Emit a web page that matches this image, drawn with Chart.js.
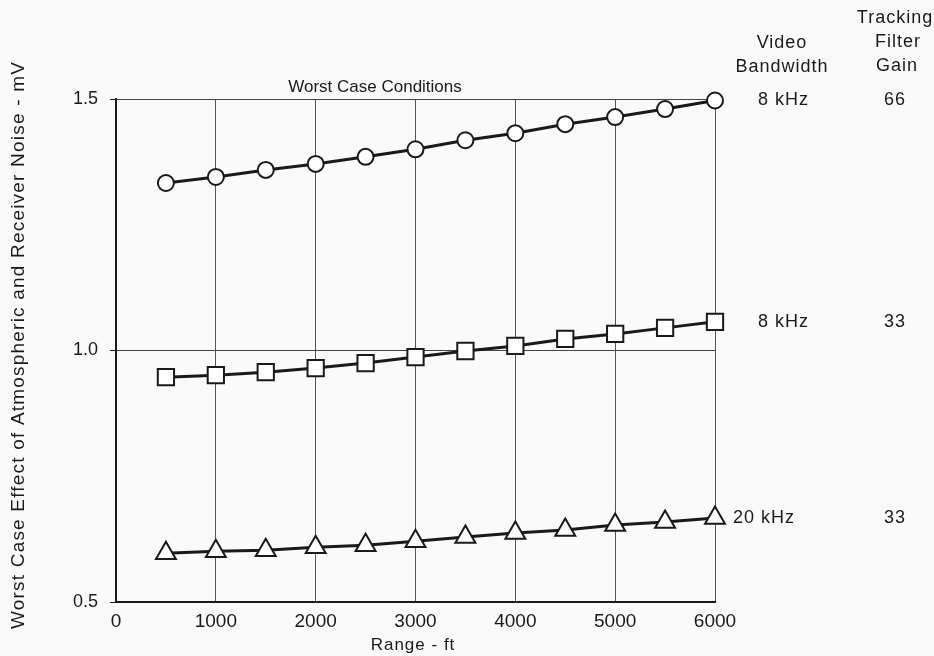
<!DOCTYPE html>
<html>
<head>
<meta charset="utf-8">
<script src="https://cdn.jsdelivr.net/npm/chart.js@4/dist/chart.umd.min.js"></script>
<style>
  html, body { margin: 0; padding: 0; background: #fafafa; }
  #wrap { width: 934px; height: 656px; }
</style>
</head>
<body>
<div id="wrap"><canvas id="chart" width="934" height="656"></canvas></div>
<script>
// range in feet
const rangeFt = [500, 1000, 1500, 2000, 2500, 3000, 3500, 4000, 4500, 5000, 5500, 6000];
// noise effect, mV
const bw8kGain66 = [1.333, 1.345, 1.359, 1.371, 1.385, 1.400, 1.418, 1.432, 1.450, 1.464, 1.480, 1.497];
const bw8kGain33 = [0.947, 0.951, 0.957, 0.965, 0.975, 0.987, 0.999, 1.009, 1.023, 1.033, 1.045, 1.057];
const bw20kGain33 = [0.597, 0.601, 0.603, 0.609, 0.613, 0.621, 0.629, 0.637, 0.643, 0.653, 0.659, 0.667];

const seriesLabels = [
  { bw: "8 kHz", gain: "66", data: bw8kGain66, shape: "circle", r: 8 },
  { bw: "8 kHz", gain: "33", data: bw8kGain33, shape: "rect", r: 11.5 },
  { bw: "20 kHz", gain: "33", data: bw20kGain33, shape: "triangle", r: 11.5 }
];
const xTicks = [0, 1000, 2000, 3000, 4000, 5000, 6000];
const yTicks = [0.5, 1.0, 1.5];

const ink = "#1a1a1a";
const font = "'Liberation Sans', Arial, sans-serif";

const toPoints = (arr) => arr.map((v, i) => ({ x: rangeFt[i], y: v }));

// headers, curve labels and axis titles
const annotations = {
  id: "annotations",
  afterDraw(chart) {
    const ctx = chart.ctx;
    const x = chart.scales.x, y = chart.scales.y;
    ctx.save();
    ctx.fillStyle = ink;
    ctx.textBaseline = "middle";
    ctx.textAlign = "center";

    ctx.font = "17px " + font;
    ctx.fillText("Worst Case Conditions", 375, 87);

    ctx.font = "18px " + font;
    ctx.letterSpacing = "1px";
    ctx.fillText("Video", 782, 43);
    ctx.fillText("Bandwidth", 782, 67);
    ctx.fillText("Tracking", 895, 18);
    ctx.fillText("Filter", 898, 42);
    ctx.fillText("Gain", 897, 66);

    const last = rangeFt.length - 1;
    seriesLabels.forEach((s) => {
      const py = y.getPixelForValue(s.data[last]);
      const px = x.getPixelForValue(rangeFt[last]);
      ctx.textAlign = "left";
      ctx.fillText(s.bw, s.bw.length > 5 ? px + 18 : px + 43, py);
      ctx.textAlign = "center";
      ctx.fillText(s.gain, 895, py);
    });

    ctx.font = "17px " + font;
    ctx.letterSpacing = "1px";
    ctx.fillText("Range - ft", 413, 645);

    ctx.font = "19px " + font;
    ctx.letterSpacing = "1.2px";
    ctx.translate(19, 345);
    ctx.rotate(-Math.PI / 2);
    ctx.fillText("Worst Case Effect of Atmospheric and Receiver Noise - mV", 0, 0);
    ctx.restore();
  }
};

new Chart(document.getElementById("chart").getContext("2d"), {
  type: "line",
  data: {
    datasets: seriesLabels.map((s) => ({
      data: toPoints(s.data),
      borderColor: ink,
      borderWidth: 3,
      pointStyle: s.shape,
      pointRadius: s.r,
      pointBackgroundColor: "#ffffff",
      pointBorderColor: ink,
      pointBorderWidth: 2,
      tension: 0,
      clip: false
    }))
  },
  options: {
    responsive: false,
    animation: false,
    layout: { padding: { left: 0, top: 99, right: 219, bottom: 0 } },
    plugins: { legend: { display: false }, tooltip: { enabled: false } },
    scales: {
      x: {
        type: "linear",
        min: 0,
        max: 6000,
        afterFit: (s) => { s.height = 54; },
        afterBuildTicks: (s) => { s.ticks = xTicks.map((v) => ({ value: v })); },
        grid: { color: "#555", lineWidth: 1, drawTicks: false },
        border: { color: ink, width: 2 },
        ticks: {
          color: ink,
          font: { family: font, size: 19 },
          padding: 8,
          maxRotation: 0,
          callback: (v) => String(v)
        }
      },
      y: {
        min: 0.5,
        max: 1.5,
        afterFit: (s) => { s.width = 116; },
        afterBuildTicks: (s) => { s.ticks = yTicks.map((v) => ({ value: v })); },
        grid: { color: "#444", lineWidth: 1, tickLength: 6, tickColor: ink },
        border: { color: ink, width: 2 },
        ticks: {
          color: ink,
          font: { family: font, size: 18 },
          padding: 12,
          callback: (v) => v.toFixed(1)
        }
      }
    }
  },
  plugins: [annotations]
});
</script>
</body>
</html>
